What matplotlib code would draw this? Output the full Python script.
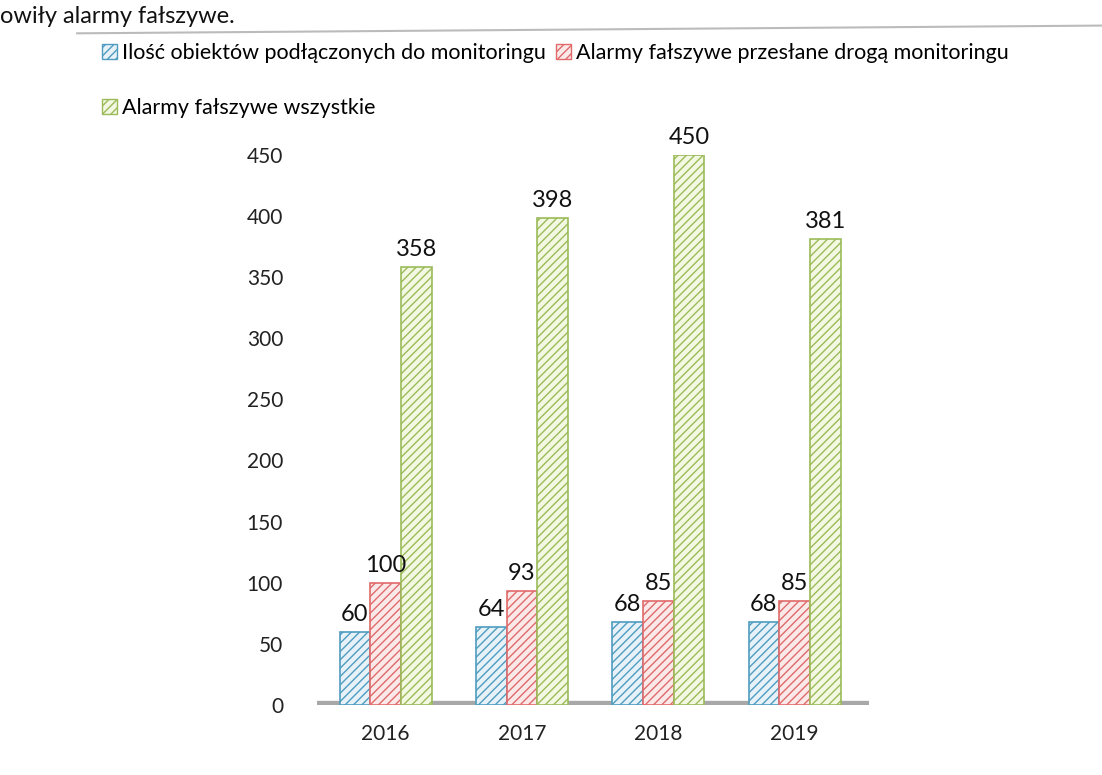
import numpy as np
import matplotlib; matplotlib.use("Agg"); import matplotlib.pyplot as plt
from matplotlib.patches import Patch

plt.rcParams["font.family"] = ["Lato", "DejaVu Sans"]
plt.rcParams["hatch.linewidth"] = 1.0

years = ["2016", "2017", "2018", "2019"]
obiekty = [60, 64, 68, 68]
alarmy_monit = [100, 93, 85, 85]
alarmy_all = [358, 398, 450, 381]
names = ["Ilość obiektów podłączonych do monitoringu",
         "Alarmy fałszywe przesłane drogą monitoringu",
         "Alarmy fałszywe wszystkie"]

# (edge/hatch colour, face colour)
STY = [("#4F9CC0", "#E6F2F7"), ("#E06A6A", "#FBE9E9"), ("#9BBB59", "#F3F8E2")]

fig = plt.figure(figsize=(11.02, 7.75), dpi=100)
ax = fig.add_axes([0.272, 0.0903, 0.517, 0.71])

x = np.arange(len(years)); w = 0.225
series = [obiekty, alarmy_monit, alarmy_all]
handles = []
for j, (vals, (ec, fc)) in enumerate(zip(series, STY)):
    bars = ax.bar(x + (j - 1) * w, vals, w, facecolor=fc, edgecolor=ec, hatch="////", linewidth=1.2, zorder=3)
    for b, v in zip(bars, vals):
        ax.annotate(str(v), (b.get_x() + b.get_width() / 2, v), xytext=(0, 5), textcoords="offset points",
                    ha="center", va="bottom", fontsize=17, color="#111111", zorder=5)
    handles.append(Patch(facecolor=fc, edgecolor=ec, hatch="////", label=names[j]))

# floor of the pseudo-3d chart
ax.axhline(0, xmin=0.03, xmax=1.0, color="#A8A8A8", linewidth=6, zorder=2, solid_capstyle="butt")

ax.set_xlim(-0.63, 3.55); ax.set_ylim(0, 450)
ax.set_yticks(range(0, 451, 50))
ax.set_xticks(x); ax.set_xticklabels(years)
ax.tick_params(length=0, labelsize=15, colors="#222222")
ax.tick_params(axis="x", pad=14)
ax.tick_params(axis="y", pad=12)
for s in ax.spines.values(): s.set_visible(False)

fig.legend([handles[0], handles[2], handles[1]], [names[0], names[2], names[1]],
           ncol=2, loc="upper left", bbox_to_anchor=(0.075, 0.97), frameon=False,
           fontsize=15.5, handlelength=0.7, handleheight=0.7, handletextpad=0.25,
           columnspacing=0.45, labelspacing=1.65)

fig.text(0.0, 0.992, "owiły alarmy fałszywe.", fontsize=17, va="top", ha="left", color="#111111")
fig.add_artist(plt.Line2D([0.07, 1.0], [0.957, 0.967], color="#BBBBBB", linewidth=1.5))

fig.savefig("out.png", dpi=100, facecolor="white")
